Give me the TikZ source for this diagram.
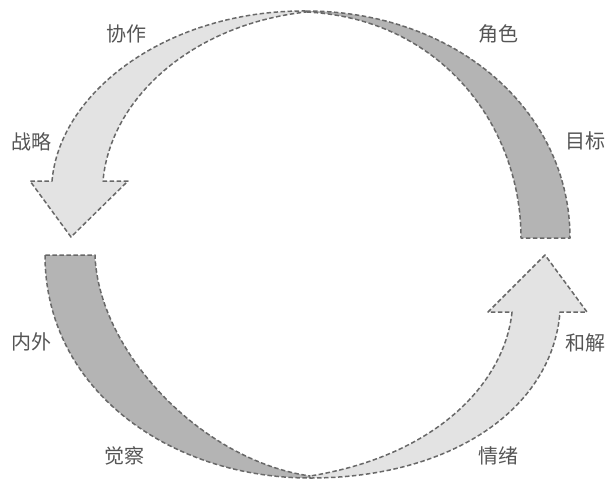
\documentclass[tikz,border=0pt]{standalone}
\usepackage{fontspec}
\newfontfamily\cjk{Noto Sans CJK SC}
\definecolor{darkband}{HTML}{B4B4B4}
\definecolor{lightband}{HTML}{E3E3E3}
\definecolor{edge}{HTML}{686868}
\definecolor{labeltext}{HTML}{555555}
\tikzset{
  band/.style={draw=edge, line width=1.5pt, dash pattern=on 4.5pt off 2.5pt, line join=round},
  darkfill/.style={band, fill=darkband},
  lightfill/.style={band, fill=lightband},
  lbl/.style={font=\cjk\fontsize{20}{20}\selectfont, text=labeltext, inner sep=0pt}
}
\begin{document}
\begin{tikzpicture}[x=1pt,y=-1pt]
\useasboundingbox (0,0) rectangle (610,480);
% top-right dark band
\draw[darkfill] (306,11) .. controls (455,11) and (570,110) .. (570,238)
  -- (521,238) .. controls (521,125) and (440,18) .. (306,12) -- cycle;
% top-left light arrow
\draw[lightfill] (306,11) .. controls (170,10) and (60,90) .. (52,181)
  -- (30,181) -- (71,237) -- (128,181) -- (103,181)
  .. controls (110,100) and (190,25) .. (306,12) -- cycle;
% bottom-left dark band
\draw[darkfill] (45,255) .. controls (45,390) and (170,478) .. (310,478)
  -- (310,476) .. controls (200,460) and (98,350) .. (95,255) -- cycle;
% bottom-right light arrow
\draw[lightfill] (310,478) .. controls (450,478) and (552,410) .. (560,312)
  -- (587,312) -- (545,255) -- (488,312) -- (512,312)
  .. controls (505,380) and (440,455) .. (310,476) -- cycle;
% labels
\node[lbl] (xiezuo) at (126,34) {协作};
\node[lbl] (juese) at (498,34) {角色};
\node[lbl] (zhanlue) at (32,142) {战略};
\node[lbl] (mubiao) at (585,141) {目标};
\node[lbl] (neiwai) at (32,342) {内外};
\node[lbl] (hejie) at (585,343) {和解};
\node[lbl] (juecha) at (124,456) {觉察};
\node[lbl] (qingxu) at (498,456) {情绪};
\end{tikzpicture}
\end{document}
